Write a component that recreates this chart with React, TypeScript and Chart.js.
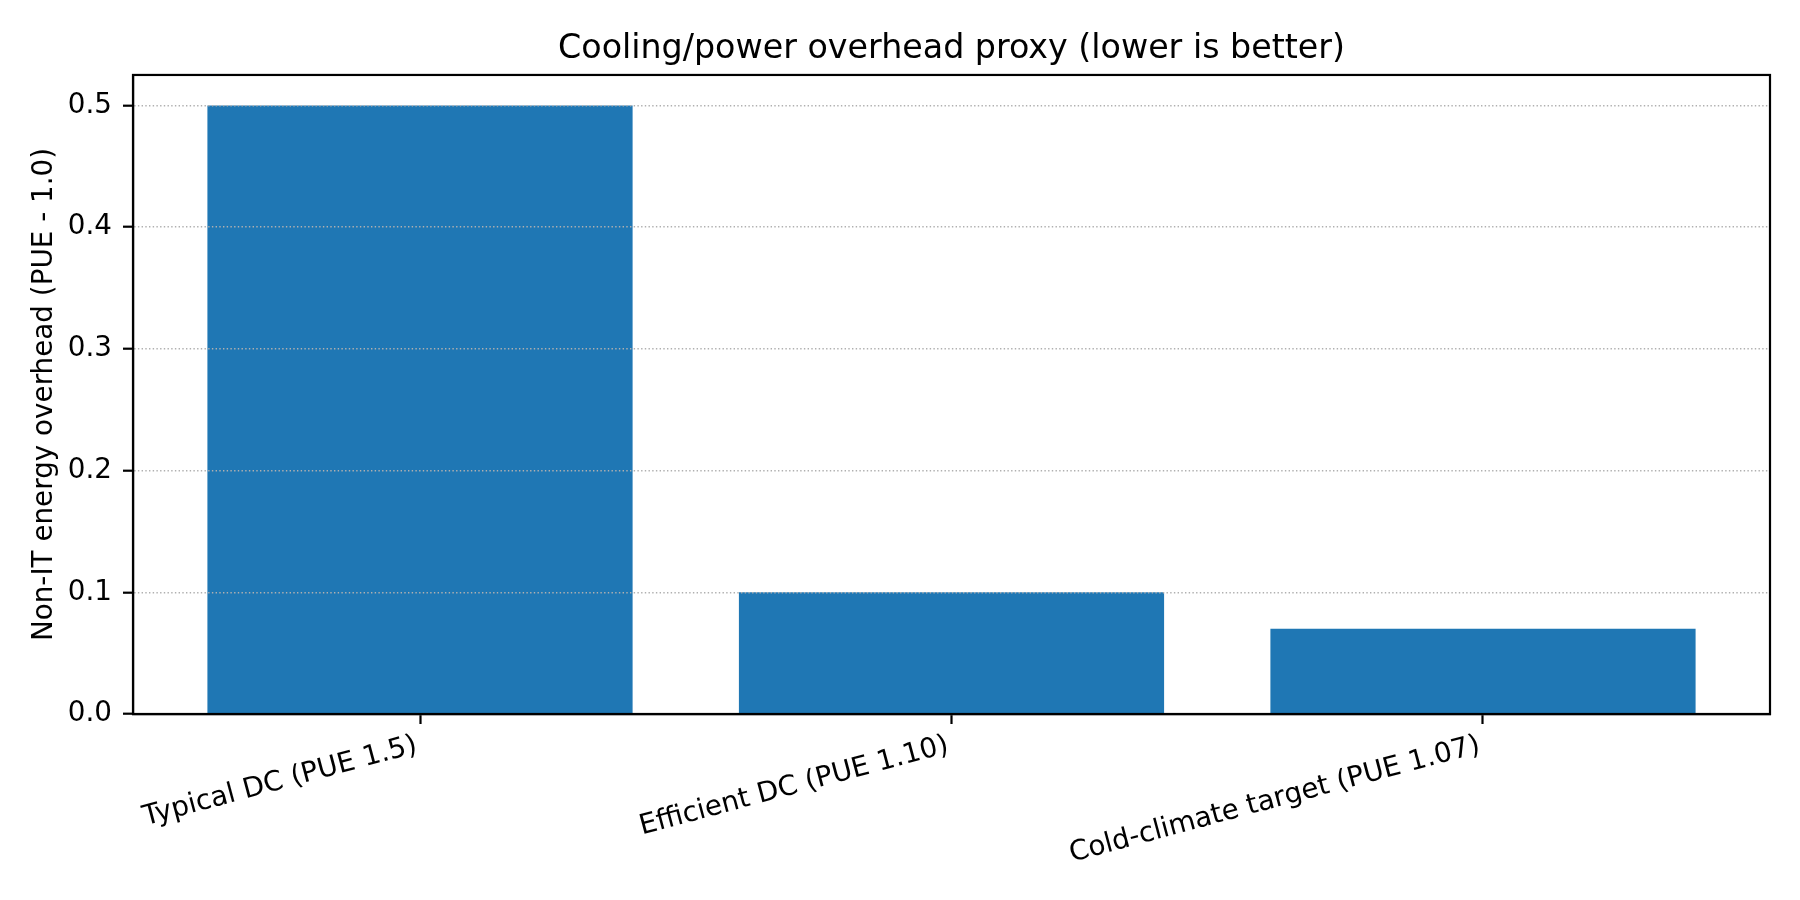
import { useEffect, useRef } from "react";
import { Chart, registerables } from "chart.js";

Chart.register(...registerables);

const CATEGORIES = [
  "Typical DC (PUE 1.5)",
  "Efficient DC (PUE 1.10)",
  "Cold-climate target (PUE 1.07)",
];
const OVERHEAD = [0.5, 0.1, 0.07];
const Y_TICKS = [0, 0.1, 0.2, 0.3, 0.4, 0.5];

const FONT = "'DejaVu Sans', sans-serif";

// matplotlib draws all four spines; Chart.js only the axis ones
const framePlugin = {
  id: "frame",
  afterDraw(chart: Chart) {
    const { ctx, chartArea: a } = chart;
    ctx.save();
    ctx.setLineDash([]);
    ctx.strokeStyle = "#000";
    ctx.lineWidth = 2.2;
    ctx.strokeRect(a.left, a.top, a.right - a.left, a.bottom - a.top);
    ctx.restore();
  },
};

export default function App() {
  const canvasRef = useRef<HTMLCanvasElement>(null);

  useEffect(() => {
    if (!canvasRef.current) return;
    const chart = new Chart(canvasRef.current, {
      type: "bar",
      data: {
        datasets: [
          {
            data: OVERHEAD.map((v, i) => ({ x: i, y: v })),
            backgroundColor: "#1f77b4",
            borderWidth: 0,
            barPercentage: 0.8,
            categoryPercentage: 1,
          },
        ],
      },
      options: {
        responsive: false,
        devicePixelRatio: 1,
        animation: false,
        layout: { padding: { left: 0, right: 30, top: 0, bottom: 0 } },
        plugins: {
          legend: { display: false },
          tooltip: { enabled: false },
          title: {
            display: true,
            fullSize: false,
            text: "Cooling/power overhead proxy (lower is better)",
            color: "#000",
            font: { family: FONT, size: 33.3, weight: "normal" },
            padding: { top: 29.5, bottom: 5.5 },
          },
        },
        scales: {
          x: {
            type: "linear",
            min: -0.54,
            max: 2.54,
            offset: false,
            afterBuildTicks: (s: any) => {
              s.ticks = CATEGORIES.map((_, i) => ({ value: i }));
            },
            afterFit: (s: any) => {
              s.height = 186;
            },
            ticks: {
              color: "#000",
              font: { family: FONT, size: 27.8 },
              minRotation: 15,
              maxRotation: 15,
              padding: 5,
              labelOffset: -3.5,
              autoSkip: false,
              callback: (v: any) => CATEGORIES[v] ?? "",
            },
            grid: {
              display: true,
              offset: false,
              drawOnChartArea: false,
              drawTicks: true,
              tickLength: 10,
              tickColor: "#000",
              tickWidth: 2.2,
            },
            border: { display: true, color: "#000", width: 2.2 },
          },
          y: {
            min: 0,
            max: 0.525,
            afterBuildTicks: (s: any) => {
              s.ticks = Y_TICKS.map((v) => ({ value: v }));
            },
            afterFit: (s: any) => {
              s.width = 133;
            },
            ticks: {
              color: "#000",
              font: { family: FONT, size: 27.8 },
              padding: 11,
              callback: (v: any) => Number(v).toFixed(1),
            },
            grid: {
              z: 1,
              color: "#b0b0b0",
              lineWidth: 1.4,
              drawTicks: true,
              tickLength: 10,
              tickColor: "#000",
              tickWidth: 2.2,
              tickBorderDash: [],
            },
            border: { display: true, z: 2, color: "#000", width: 2.2, dash: [1.4, 2.3] },
            title: {
              display: true,
              text: "Non-IT energy overhead (PUE - 1.0)",
              color: "#000",
              font: { family: FONT, size: 27.8 },
              padding: { top: 28.5, bottom: 0 },
            },
          },
        },
      },
      plugins: [framePlugin],
    } as any);
    return () => chart.destroy();
  }, []);

  return (
    <div style={{ position: "absolute", left: 0, top: 0, width: 1800, height: 900, background: "#fff" }}>
      <canvas ref={canvasRef} width={1800} height={900} />
    </div>
  );
}
